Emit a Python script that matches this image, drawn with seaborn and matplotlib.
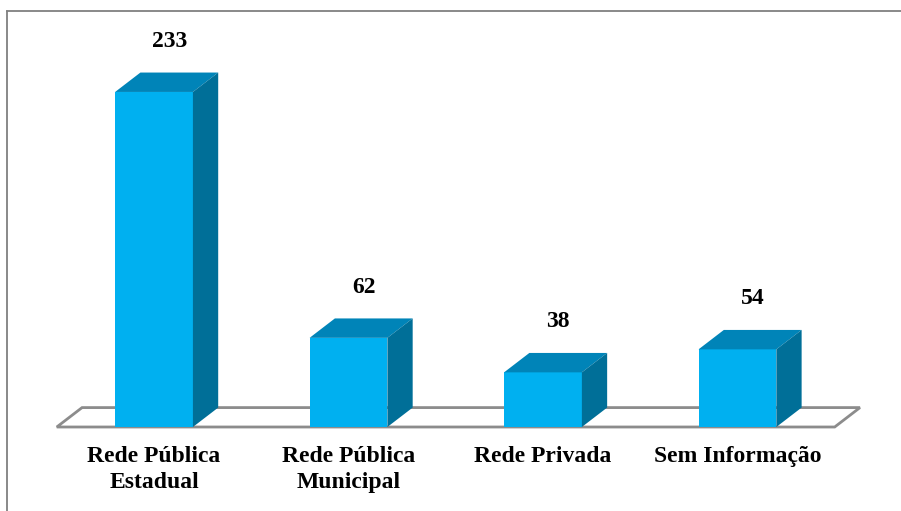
import pandas as pd
import matplotlib
matplotlib.use('Agg')
import matplotlib.pyplot as plt
import seaborn as sns
from matplotlib.patches import Polygon
from matplotlib.lines import Line2D

# data
categories = ['Rede Pública\nEstadual', 'Rede Pública\nMunicipal', 'Rede Privada', 'Sem Informação']
values = [233, 62, 38, 54]

df = pd.DataFrame({'categoria': categories, 'total': values})

sns.set_style('white')
plt.rcParams['font.family'] = ['Liberation Serif', 'DejaVu Serif']

front_color = '#00B0F0'
top_color = '#0084B8'
side_color = '#006F98'
floor_color = '#8C8C8C'
frame_color = '#808080'

fig = plt.figure(figsize=(9.01, 5.11), dpi=100)
ax = fig.add_axes([7 / 901, 1 - 427 / 511, 1 - 7 / 901, (427 - 11) / 511])

# front faces of the bars
sns.barplot(data=df, x='categoria', y='total', color=front_color, width=0.4,
            saturation=1, ax=ax, zorder=3)
bars = list(ax.patches)

ax.set_xlim(-0.756, 3.841)
ax.set_ylim(0, 289.3)

# depth of the 3d effect, in data units
dx = 0.13
dy = 13.5

# floor
floor = Polygon([(-0.5, 0), (3.5, 0), (3.5 + dx, dy), (-0.5 + dx, dy)], closed=True,
                facecolor='white', edgecolor=floor_color, linewidth=2, zorder=1,
                clip_on=False)
ax.add_patch(floor)

for bar in bars:
    x0 = bar.get_x()
    w = bar.get_width()
    h = bar.get_height()
    bar.set_edgecolor('none')
    bar.set_clip_on(False)
    top = Polygon([(x0, h), (x0 + w, h), (x0 + w + dx, h + dy), (x0 + dx, h + dy)],
                  closed=True, facecolor=top_color, edgecolor='none', zorder=3, clip_on=False)
    side = Polygon([(x0 + w, 0), (x0 + w + dx, dy), (x0 + w + dx, h + dy), (x0 + w, h)],
                   closed=True, facecolor=side_color, edgecolor='none', zorder=3, clip_on=False)
    ax.add_patch(top)
    ax.add_patch(side)
    ax.annotate(f'{int(h)}', xy=(x0 + w / 2 + dx * 0.6, h + dy), xytext=(0, 15),
                textcoords='offset points', ha='center', va='bottom',
                fontsize=17, fontweight='bold', color='black')

ax.set_xlabel('')
ax.set_ylabel('')
ax.set_yticks([])
ax.tick_params(axis='x', length=0, pad=14)
for lbl in ax.get_xticklabels():
    lbl.set_fontsize(17)
    lbl.set_fontweight('bold')
    lbl.set_color('black')
    lbl.set_linespacing(1.3)
    lbl.set_verticalalignment('top')

for s in ['right', 'bottom', 'left']:
    ax.spines[s].set_visible(False)
ax.spines['top'].set_color(frame_color)
ax.spines['top'].set_linewidth(1.3)

# chart area border on the left, running to the bottom of the picture
fig.add_artist(Line2D([7 / 901, 7 / 901], [0, 1 - 11 / 511], transform=fig.transFigure,
                      color=frame_color, linewidth=1.3))

fig.savefig('out.png', dpi=100)
